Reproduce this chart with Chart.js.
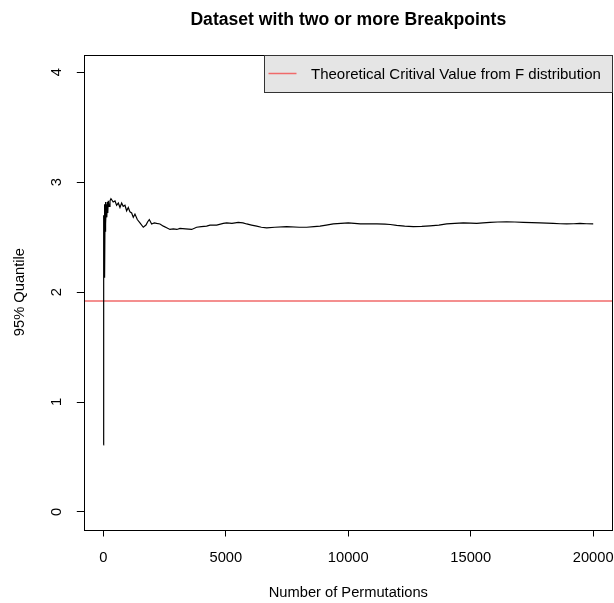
<!DOCTYPE html>
<html>
<head>
<meta charset="utf-8">
<script src="https://cdn.jsdelivr.net/npm/chart.js@4"></script>
<style>
  html, body { margin: 0; padding: 0; background: #ffffff; }
  #wrap { width: 614px; height: 603px; }
</style>
</head>
<body>
<div id="wrap"><canvas id="c" width="614" height="603"></canvas></div>
<script>
// ---- data ----
const permutations = [1, 5, 10, 15, 20, 30, 40, 50, 60, 70, 80, 90, 100, 120, 140, 160, 180, 200, 230, 270, 310, 340, 400, 474, 540, 610, 678, 746, 810, 882, 950, 1018, 1085, 1155, 1222, 1290, 1385, 1494, 1630, 1740, 1810, 1876, 1970, 2080, 2176, 2311, 2450, 2584, 2720, 2856, 3000, 3128, 3350, 3605, 3808, 4000, 4218, 4353, 4626, 4896, 5034, 5250, 5508, 5700, 5851, 6050, 6259, 6450, 6668, 7000, 7484, 8000, 8300, 8600, 8846, 9100, 9390, 9700, 10000, 10250, 10490, 10800, 11170, 11500, 11712, 11975, 12300, 12654, 13000, 13335, 13700, 14016, 14350, 14696, 15000, 15243, 15500, 15786, 16100, 16466, 16800, 17146, 17500, 17828, 18100, 18370, 18650, 18915, 19200, 19460, 19730, 20000];
const quantile95 = [0.61, 2.63, 2.45, 2.70, 2.30, 2.60, 2.80, 2.40, 2.13, 2.78, 2.55, 2.82, 2.62, 2.80, 2.68, 2.82, 2.72, 2.83, 2.78, 2.83, 2.85, 2.84, 2.82, 2.83, 2.79, 2.81, 2.77, 2.81, 2.78, 2.79, 2.74, 2.77, 2.73, 2.72, 2.68, 2.71, 2.66, 2.63, 2.59, 2.61, 2.64, 2.66, 2.62, 2.63, 2.625, 2.62, 2.60, 2.585, 2.57, 2.575, 2.57, 2.58, 2.575, 2.57, 2.59, 2.595, 2.60, 2.61, 2.61, 2.625, 2.63, 2.625, 2.635, 2.63, 2.62, 2.61, 2.60, 2.59, 2.585, 2.59, 2.595, 2.59, 2.59, 2.595, 2.60, 2.61, 2.62, 2.625, 2.63, 2.625, 2.62, 2.62, 2.62, 2.618, 2.615, 2.607, 2.60, 2.595, 2.598, 2.603, 2.61, 2.62, 2.625, 2.63, 2.628, 2.625, 2.63, 2.635, 2.638, 2.64, 2.638, 2.635, 2.632, 2.63, 2.628, 2.625, 2.622, 2.62, 2.622, 2.625, 2.622, 2.62];
const criticalValue = 1.918;
const xRange = [-799, 20800];
const yRange = [-0.16, 4.16];
const xTicks = [0, 5000, 10000, 15000, 20000];
const yTicks = [0, 1, 2, 3, 4];
const titleText = "Dataset with two or more Breakpoints";
const xTitle = "Number of Permutations";
const yTitle = "95% Quantile";
const legendLabel = "Theoretical Critival Value from F distribution";

const FONT = "'Liberation Sans', Arial, Helvetica, sans-serif";
const RED = "#f06a6a";

const quantilePoints = permutations.map((p, i) => ({ x: p, y: quantile95[i] }));
const criticalPoints = [{ x: xRange[0], y: criticalValue }, { x: xRange[1], y: criticalValue }];

const decor = {
  id: 'decor',
  afterDraw(chart) {
    const ctx = chart.ctx;
    const a = chart.chartArea;
    ctx.save();
    // plot box
    ctx.strokeStyle = '#000';
    ctx.lineWidth = 1;
    ctx.strokeRect(Math.round(a.left) + 0.5, Math.round(a.top) + 0.5,
                   Math.round(a.right - a.left) - 1, Math.round(a.bottom - a.top));
    // title
    ctx.fillStyle = '#000';
    ctx.font = "bold 17.6px " + FONT;
    ctx.textAlign = 'center';
    ctx.textBaseline = 'alphabetic';
    ctx.fillText(titleText, (a.left + a.right) / 2, 25);
    // legend (top right inside plot)
    const lx0 = 264.5, lx1 = Math.round(a.right) - 0.5, ly0 = Math.round(a.top) + 0.5, ly1 = 92.5;
    ctx.fillStyle = '#e5e5e5';
    ctx.fillRect(lx0, ly0, lx1 - lx0, ly1 - ly0);
    ctx.strokeStyle = '#333';
    ctx.strokeRect(lx0, ly0, lx1 - lx0, ly1 - ly0);
    const ds = chart.data.datasets[1];
    ctx.strokeStyle = ds.borderColor;
    ctx.lineWidth = 1.5;
    ctx.beginPath();
    ctx.moveTo(268.5, 73.5);
    ctx.lineTo(296.5, 73.5);
    ctx.stroke();
    ctx.fillStyle = '#000';
    ctx.font = "15px " + FONT;
    ctx.textAlign = 'left';
    ctx.fillText(ds.label, 311, 79);
    ctx.restore();
  }
};

new Chart(document.getElementById('c'), {
  type: 'line',
  data: {
    datasets: [
      { label: '95% Quantile', data: quantilePoints, borderColor: '#000', borderWidth: 1.2,
        pointRadius: 0, tension: 0, fill: false },
      { label: legendLabel, data: criticalPoints, borderColor: RED, borderWidth: 1.5,
        pointRadius: 0, tension: 0, fill: false }
    ]
  },
  options: {
    responsive: false,
    animation: false,
    devicePixelRatio: 1,
    layout: { padding: { top: 54.7, right: 1.2, left: 0, bottom: 0 } },
    plugins: { legend: { display: false }, tooltip: { enabled: false }, title: { display: false } },
    scales: {
      x: {
        type: 'linear', min: xRange[0], max: xRange[1],
        afterBuildTicks(s) { s.ticks = xTicks.map(v => ({ value: v })); },
        afterFit(s) { s.height = 73.5; s.paddingLeft = 0; s.paddingRight = 0; },
        border: { display: false },
        grid: { drawOnChartArea: false, drawTicks: true, tickLength: 7, color: '#000', lineWidth: 1 },
        ticks: { color: '#000', padding: 12.5, maxRotation: 0, minRotation: 0, autoSkip: false,
                 font: { family: FONT, size: 14.7 }, callback: v => String(v) },
        title: { display: true, text: xTitle, color: '#000', font: { family: FONT, size: 14.7 },
                 padding: { top: 0, bottom: 1 } }
      },
      y: {
        type: 'linear', min: yRange[0], max: yRange[1],
        afterBuildTicks(s) { s.ticks = yTicks.map(v => ({ value: v })); },
        afterFit(s) { s.width = 83.8; s.paddingTop = 0; s.paddingBottom = 0; },
        border: { display: false },
        grid: { drawOnChartArea: false, drawTicks: true, tickLength: 7, color: '#000', lineWidth: 1 },
        ticks: { color: '#000', padding: 16,
                 minRotation: 90, maxRotation: 90, crossAlign: 'center', autoSkip: false,
                 font: { family: FONT, size: 14.7 }, callback: v => String(v) },
        title: { display: true, text: yTitle, color: '#000', font: { family: FONT, size: 14.7 },
                 padding: { top: 10.7, bottom: 0 } }
      }
    }
  },
  plugins: [decor]
});
</script>
</body>
</html>
